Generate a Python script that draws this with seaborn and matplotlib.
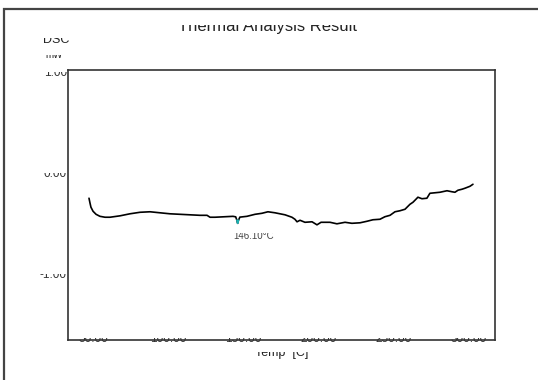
import numpy as np
import pandas as pd
import matplotlib
matplotlib.use("Agg")
import matplotlib.pyplot as plt
from matplotlib.patches import Rectangle
import seaborn as sns

# DSC trace: temperature [C] and heat flow [mW]
temp = [47.0, 47.7, 48.3, 49.7, 51.7, 54.3, 57.7, 61.0, 67.7, 74.3, 81.0, 87.7,
        94.3, 101.0, 107.7, 114.3, 121.0, 125.7, 127.7, 131.0, 137.7, 143.0,
        144.8, 145.6, 146.1, 146.7, 147.6, 152.3, 157.7, 162.3, 166.3, 171.0,
        177.7, 182.3, 184.3, 185.7, 187.7, 191.0, 195.7, 199.0, 201.7, 207.7,
        212.3, 217.7, 222.3, 227.7, 232.3, 236.3, 241.0, 244.3, 247.7, 251.0,
        254.3, 257.7, 261.0, 263.0, 265.0, 266.3, 269.0, 272.3, 274.3, 277.7,
        281.0, 285.7, 289.0, 291.0, 293.0, 295.7, 297.7, 301.0, 303.0]
dsc = [-0.168, -0.218, -0.257, -0.297, -0.327, -0.347, -0.356, -0.356, -0.342,
       -0.322, -0.307, -0.302, -0.312, -0.322, -0.327, -0.332, -0.337, -0.337,
       -0.356, -0.356, -0.351, -0.347, -0.352, -0.385, -0.416, -0.385, -0.355,
       -0.347, -0.327, -0.317, -0.302, -0.312, -0.332, -0.356, -0.376, -0.401,
       -0.386, -0.406, -0.401, -0.431, -0.406, -0.406, -0.421, -0.406, -0.416,
       -0.411, -0.396, -0.381, -0.376, -0.351, -0.337, -0.302, -0.292, -0.277,
       -0.228, -0.208, -0.178, -0.158, -0.173, -0.168, -0.119, -0.114, -0.109,
       -0.094, -0.104, -0.109, -0.089, -0.079, -0.069, -0.050, -0.030]

peak_temp = 146.10
x_labels = [50, 100, 150, 200, 250, 300]
y_labels = [1.0, 0.0, -1.0]
x_minor = list(range(40, 301, 20))
y_minor = [round(v, 1) for v in np.arange(-1.4, 1.01, 0.2)]

sns.set_style("white")
plt.rcParams["font.family"] = ["Liberation Sans", "DejaVu Sans"]

W, H = 538, 380
fig = plt.figure(figsize=(W / 100, H / 100), dpi=100)


def px_box(left, top, right, bottom):
    """Figure-fraction rectangle from pixel edges (y measured from top)."""
    return [left / W, 1 - bottom / H, (right - left) / W, (bottom - top) / H]


ax = fig.add_axes(px_box(68, 70, 495, 340))

df = pd.DataFrame({"Temp": temp, "DSC": dsc})
sns.lineplot(data=df, x="Temp", y="DSC", ax=ax, color="black", lw=1.2,
             sort=False, estimator=None)

# highlight the bottom of the endothermic dip
dip = df[(df.Temp > 145.0) & (df.Temp < 147.2)]
sns.lineplot(data=dip, x="Temp", y="DSC", ax=ax, color="#1ab0b0", lw=1.2,
             sort=False, estimator=None)

ax.set_xlim(33, 317.7)
ax.set_ylim(-1.57, 1.10)
ax.set_xticks(x_minor)
ax.set_yticks(y_minor)
ax.tick_params(direction="in", length=3, width=0.8, color="#333333",
               labelbottom=False, labelleft=False)
ax.set_xlabel("")
ax.set_ylabel("")
for s in ax.spines.values():
    s.set_color("#333333")
    s.set_linewidth(1.2)


def clipped(t, top_px):
    """Hide the part of a text that lies above the given pixel row."""
    r = Rectangle((0, 0), 1, 1 - top_px / H, transform=fig.transFigure)
    t.set_clip_path(r)
    t.set_clip_on(True)
    return t


# y tick labels
for v in y_labels:
    t = ax.annotate(f"{v:.2f}", xy=(0, v), xycoords=("axes fraction", "data"),
                    xytext=(-1, 4), textcoords="offset pixels",
                    ha="right", va="baseline", fontsize=8.5, color="#333333",
                    annotation_clip=False)
    ty = ax.transData.transform((0, v))[1]
    clipped(t, H - ty - 8.5)

# x tick labels
for v in x_labels:
    t = ax.annotate(f"{v:.2f}", xy=(v, 0), xycoords=("data", "axes fraction"),
                    xytext=(0, -2), textcoords="offset pixels",
                    ha="center", va="baseline", fontsize=8.5, color="#333333",
                    annotation_clip=False)
    clipped(t, 337.5)

# peak annotation
t = ax.annotate(f"{peak_temp:.2f}°C", xy=(peak_temp, -0.416),
                xytext=(16, -15.5), textcoords="offset pixels",
                ha="center", va="baseline", fontsize=7, color="#444444")
clipped(t, 233)

# titles and axis captions
clipped(fig.text(267.5 / W, 1 - 31 / H, "Thermal Analysis Result", ha="center",
                 va="baseline", fontsize=12, color="#222222"), 25)
clipped(fig.text(43 / W, 1 - 43 / H, "DSC", ha="left", va="baseline",
                 fontsize=9, color="#222222"), 38)
clipped(fig.text(45 / W, 1 - 58 / H, "mW", ha="left", va="baseline",
                 fontsize=7, color="#222222"), 54.5)
clipped(fig.text(282 / W, 1 - 356 / H, "Temp  [C]", ha="center", va="baseline",
                 fontsize=9, color="#222222"), 351.5)

# outer frame
fig.patches.append(Rectangle((3.5 / W, -0.1), 1.2, 1.1 - 9.5 / H,
                             transform=fig.transFigure, fill=False,
                             edgecolor="#444444", lw=1.6, clip_on=False))

fig.savefig("out.png", dpi=100, facecolor="white")
